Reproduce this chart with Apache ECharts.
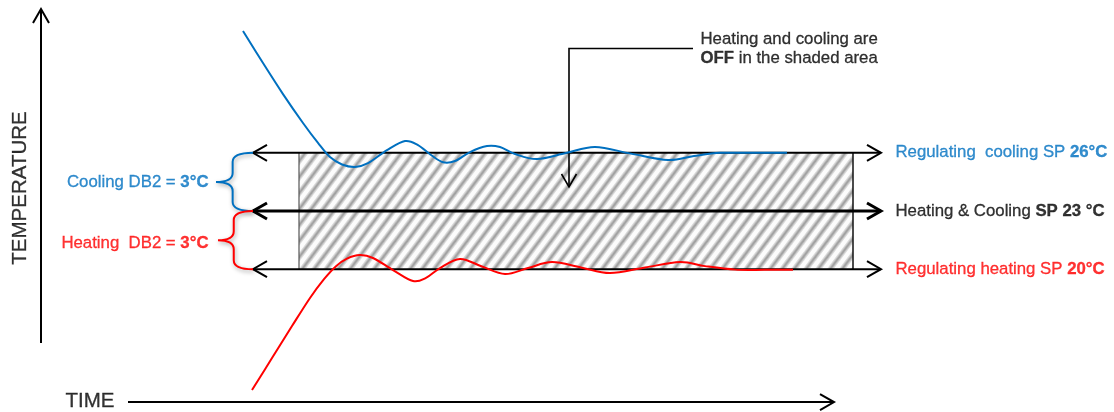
<!DOCTYPE html>
<html>
<head>
<meta charset="utf-8">
<script src="https://cdn.jsdelivr.net/npm/echarts@6/dist/echarts.min.js"></script>
<style>
html,body{margin:0;padding:0;background:#fff;}
#chart{width:1114px;height:412px;}
</style>
</head>
<body>
<div id="chart"></div>
<script>
// ---------------- DATA (time in arbitrary units, temperature in °C) ----------------
const timeExtent = [-4.1, 107.3];
const tempExtent = [12.64, 33.88];

// set points
const setpoints = [26, 23, 20];
const setpointText = ['Regulating  cooling SP ', 'Heating & Cooling ', 'Regulating heating SP '];
const setpointBold = ['26°C', 'SP 23 °C', '20°C'];
const setpointArrowTime = [21.2, 84.0];

// dead band (heating/cooling off) zone
const zoneTime = [25.8, 81.2];
const zoneTemp = [20, 26];

// dead band braces
const dbText = ['Cooling DB2 = ', 'Heating  DB2 = '];
const dbBold = ['3°C', '3°C'];
const dbTemps = [[26, 23], [23, 20]];
const braceEndTime = 21.2;
const braceTipTime = [17.5, 17.7];

// cooling response curve
const coolingTime = [20.2, 22.2, 24.2, 26.2, 27.7, 28.9, 30.1, 31.4, 32.7, 34.6, 36.4, 37.7, 39.0, 40.2, 41.4, 42.9, 44.6, 45.9, 47.4, 49.6, 52.5, 55.4, 59.0, 62.7, 65.3, 67.9, 70.9, 74.6];
const coolingTemp = [32.28, 30.63, 29.03, 27.54, 26.51, 25.78, 25.40, 25.27, 25.47, 26.14, 26.61, 26.40, 25.89, 25.52, 25.58, 26.04, 26.35, 26.30, 25.94, 25.68, 25.99, 26.30, 25.96, 25.63, 25.84, 26.0, 26.0, 26.0];

// heating response curve
const heatingTime = [21.1, 23.1, 25.1, 26.9, 28.3, 29.5, 30.6, 31.9, 33.2, 35.2, 37.2, 38.5, 39.9, 41.9, 44.1, 46.4, 48.7, 51.1, 54.0, 56.9, 60.4, 63.9, 66.4, 69.4, 72.4, 75.2];
const heatingTemp = [13.77, 15.42, 17.07, 18.52, 19.49, 20.16, 20.55, 20.73, 20.58, 19.96, 19.39, 19.55, 20.06, 20.53, 20.14, 19.75, 20.06, 20.37, 20.09, 19.80, 20.09, 20.37, 20.16, 19.98, 19.97, 19.97];

// schematic axes
const tempAxisLine = [[0, 16.2], [0, 33.41]];
const timeAxisLine = [[8.7, 13.15], [79.3, 13.15]];
const axisTitles = ['TEMPERATURE', 'TIME'];

// callout
const calloutLine = [[65.2, 31.38], [52.8, 31.38], [52.8, 24.24]];
const calloutText = ['Heating and cooling are', 'OFF', ' in the shaded area'];

// ---------------- LAYOUT / STYLE ----------------
const FONT = '"Liberation Sans", Arial, Helvetica, sans-serif';
const BLUE = '#0070C0', RED = '#FF0000', BLACK = '#000000';
const spColors = [BLUE, BLACK, RED];
const dbColors = [BLUE, RED];
const spLabelTime = 85.4;
const dbLabelAnchor = [[16.8, 24.49], [16.8, 21.35]];
const tempTitleAnchor = [-2.1, 24.19];
const timeTitleAnchor = [2.4, 13.2];
const calloutAnchor = [65.9, 31.35];

function makeHatch() {
  const c = document.createElement('canvas');
  c.width = 12; c.height = 16;
  const g = c.getContext('2d');
  g.fillStyle = '#fcfcfc';
  g.fillRect(0, 0, 12, 16);
  [[5.5, '#dadada'], [3.2, '#bdbdbd'], [1.6, '#a2a2a2']].forEach(([w, col]) => {
    g.strokeStyle = col; g.lineWidth = w;
    [-12, 0, 12].forEach(off => {
      g.beginPath(); g.moveTo(off - 3, 20); g.lineTo(off + 15, -4); g.stroke();
    });
  });
  return c;
}
const hatch = makeHatch();

function vHead(tip, from, len, half) {
  const dx = tip[0] - from[0], dy = tip[1] - from[1];
  const L = Math.hypot(dx, dy) || 1;
  const ux = dx / L, uy = dy / L;
  const bx = tip[0] - ux * len, by = tip[1] - uy * len;
  return [[bx - uy * half, by + ux * half], tip, [bx + uy * half, by - ux * half]];
}

function arrowSeries(paths, optFn, z) {
  return {
    type: 'custom', z: z, silent: true,
    data: paths.map(p => p[0]),
    renderItem: function (params, api) {
      const i = params.dataIndex;
      const o = optFn(i);
      const pts = paths[i].map(p => api.coord(p));
      const st = { stroke: BLACK, lineWidth: o.w, fill: 'none', lineJoin: 'miter' };
      const ch = [{ type: 'polyline', shape: { points: pts }, style: st }];
      if (o.end) ch.push({ type: 'polyline', shape: { points: vHead(pts[pts.length - 1], pts[pts.length - 2], o.len, o.half) }, style: st });
      if (o.start) ch.push({ type: 'polyline', shape: { points: vHead(pts[0], pts[1], o.len, o.half) }, style: st });
      return { type: 'group', children: ch };
    }
  };
}

// Catmull-Rom smooth curve through the data points (projected through the axes)
function curveSeries(times, temps, color, z) {
  return {
    type: 'custom', z: z, silent: true,
    data: [[times[0], temps[0]]],
    renderItem: function (params, api) {
      const p = times.map((t, i) => api.coord([t, temps[i]]));
      let d = 'M' + p[0][0] + ',' + p[0][1];
      for (let i = 0; i < p.length - 1; i++) {
        const p0 = p[Math.max(0, i - 1)], p1 = p[i], p2 = p[i + 1], p3 = p[Math.min(p.length - 1, i + 2)];
        const c1 = [p1[0] + (p2[0] - p0[0]) / 6, p1[1] + (p2[1] - p0[1]) / 6];
        const c2 = [p2[0] - (p3[0] - p1[0]) / 6, p2[1] - (p3[1] - p1[1]) / 6];
        d += ' C' + c1[0] + ',' + c1[1] + ' ' + c2[0] + ',' + c2[1] + ' ' + p2[0] + ',' + p2[1];
      }
      return { type: 'path', shape: { pathData: d }, style: { stroke: color, lineWidth: 2, fill: 'none' } };
    }
  };
}

const spPaths = setpoints.map(T => [[setpointArrowTime[0], T], [setpointArrowTime[1], T]]);

function richLabel(color, size, lh) {
  const base = { color: color, fontSize: size, fontFamily: FONT, lineHeight: lh, textBorderColor: color, textBorderWidth: 0.3 };
  return { n: base, b: Object.assign({}, base, { fontWeight: 'bold' }) };
}

const textItems = [];
textItems.push({ value: tempTitleAnchor, label: { show: true, position: 'inside', rotate: 90, formatter: axisTitles[0], color: BLACK, fontSize: 20.5, fontFamily: FONT, textBorderColor: BLACK, textBorderWidth: 0.3 } });
textItems.push({ value: timeTitleAnchor, label: { show: true, position: 'right', distance: 0, formatter: axisTitles[1], color: BLACK, fontSize: 20.5, fontFamily: FONT, textBorderColor: BLACK, textBorderWidth: 0.3 } });
setpoints.forEach((T, i) => {
  textItems.push({ value: [spLabelTime, T], label: { show: true, position: 'right', distance: 0,
    formatter: '{n|' + setpointText[i] + '}{b|' + setpointBold[i] + '}', rich: richLabel(spColors[i], 16.8, 20) } });
});
dbText.forEach((t, i) => {
  textItems.push({ value: dbLabelAnchor[i], label: { show: true, position: 'left', distance: 0,
    formatter: '{n|' + t + '}{b|' + dbBold[i] + '}', rich: richLabel(dbColors[i], 16.8, 20) } });
});
textItems.push({ value: calloutAnchor, label: { show: true, position: 'right', distance: 0,
  formatter: '{n|' + calloutText[0] + '}\n{b|' + calloutText[1] + '}{n|' + calloutText[2] + '}', rich: richLabel(BLACK, 16.8, 19) } });

const option = {
  animation: false,
  backgroundColor: '#ffffff',
  grid: { left: 0, right: 0, top: 0, bottom: 0, containLabel: false },
  xAxis: { type: 'value', min: timeExtent[0], max: timeExtent[1], show: false },
  yAxis: { type: 'value', min: tempExtent[0], max: tempExtent[1], show: false },
  series: [
    {
      type: 'custom', z: 1, silent: true,
      data: [[zoneTime[0], zoneTemp[1], zoneTime[1], zoneTemp[0]]],
      encode: { x: [0, 2], y: [1, 3] },
      renderItem: function (params, api) {
        const p1 = api.coord([api.value(0), api.value(1)]);
        const p2 = api.coord([api.value(2), api.value(3)]);
        return {
          type: 'group', children: [
            { type: 'rect', shape: { x: p1[0], y: p1[1], width: p2[0] - p1[0], height: p2[1] - p1[1] },
              style: { fill: { image: hatch, repeat: 'repeat' }, stroke: null } },
            { type: 'line', shape: { x1: p1[0], y1: p1[1], x2: p1[0], y2: p2[1] }, style: { stroke: '#555', lineWidth: 1.2 } },
            { type: 'line', shape: { x1: p2[0], y1: p1[1], x2: p2[0], y2: p2[1] }, style: { stroke: '#111', lineWidth: 1.5 } }
          ]
        };
      }
    },
    arrowSeries(spPaths, i => ({ w: i === 1 ? 3 : 2, len: 14, half: 8, start: true, end: true }), 3),
    arrowSeries([tempAxisLine, timeAxisLine], i => ({ w: 2, len: 14, half: 8, end: true }), 3),
    arrowSeries([calloutLine], i => ({ w: 1.6, len: 13, half: 7.5, end: true }), 3),
    {
      type: 'custom', z: 4, silent: true,
      data: dbTemps.map(d => [braceEndTime, d[0]]),
      renderItem: function (params, api) {
        const i = params.dataIndex;
        const top = api.coord([braceEndTime, dbTemps[i][0]]);
        const bot = api.coord([braceEndTime, dbTemps[i][1]]);
        const tipX = api.coord([braceTipTime[i], dbTemps[i][0]])[0];
        const ex = top[0], ty = top[1], by = bot[1];
        const mx = tipX + (ex - tipX) * 0.45, mid = (ty + by) / 2, r = 9;
        const d = 'M' + ex + ',' + ty +
          ' Q' + mx + ',' + ty + ' ' + mx + ',' + (ty + r) +
          ' L' + mx + ',' + (mid - r) +
          ' Q' + mx + ',' + mid + ' ' + tipX + ',' + mid +
          ' Q' + mx + ',' + mid + ' ' + mx + ',' + (mid + r) +
          ' L' + mx + ',' + (by - r) +
          ' Q' + mx + ',' + by + ' ' + ex + ',' + by;
        return { type: 'path', shape: { pathData: d },
          style: { stroke: dbColors[i], lineWidth: 2, fill: 'none',
            shadowBlur: 4, shadowColor: 'rgba(0,0,0,0.35)', shadowOffsetX: 1, shadowOffsetY: 2 } };
      }
    },
    curveSeries(coolingTime, coolingTemp, BLUE, 5),
    curveSeries(heatingTime, heatingTemp, RED, 5),
    {
      type: 'scatter', z: 6, silent: true, symbolSize: 1,
      itemStyle: { color: 'rgba(0,0,0,0)' },
      data: textItems
    }
  ]
};

const chart = echarts.init(document.getElementById('chart'), null, { renderer: 'canvas' });
chart.setOption(option);
</script>
</body>
</html>
